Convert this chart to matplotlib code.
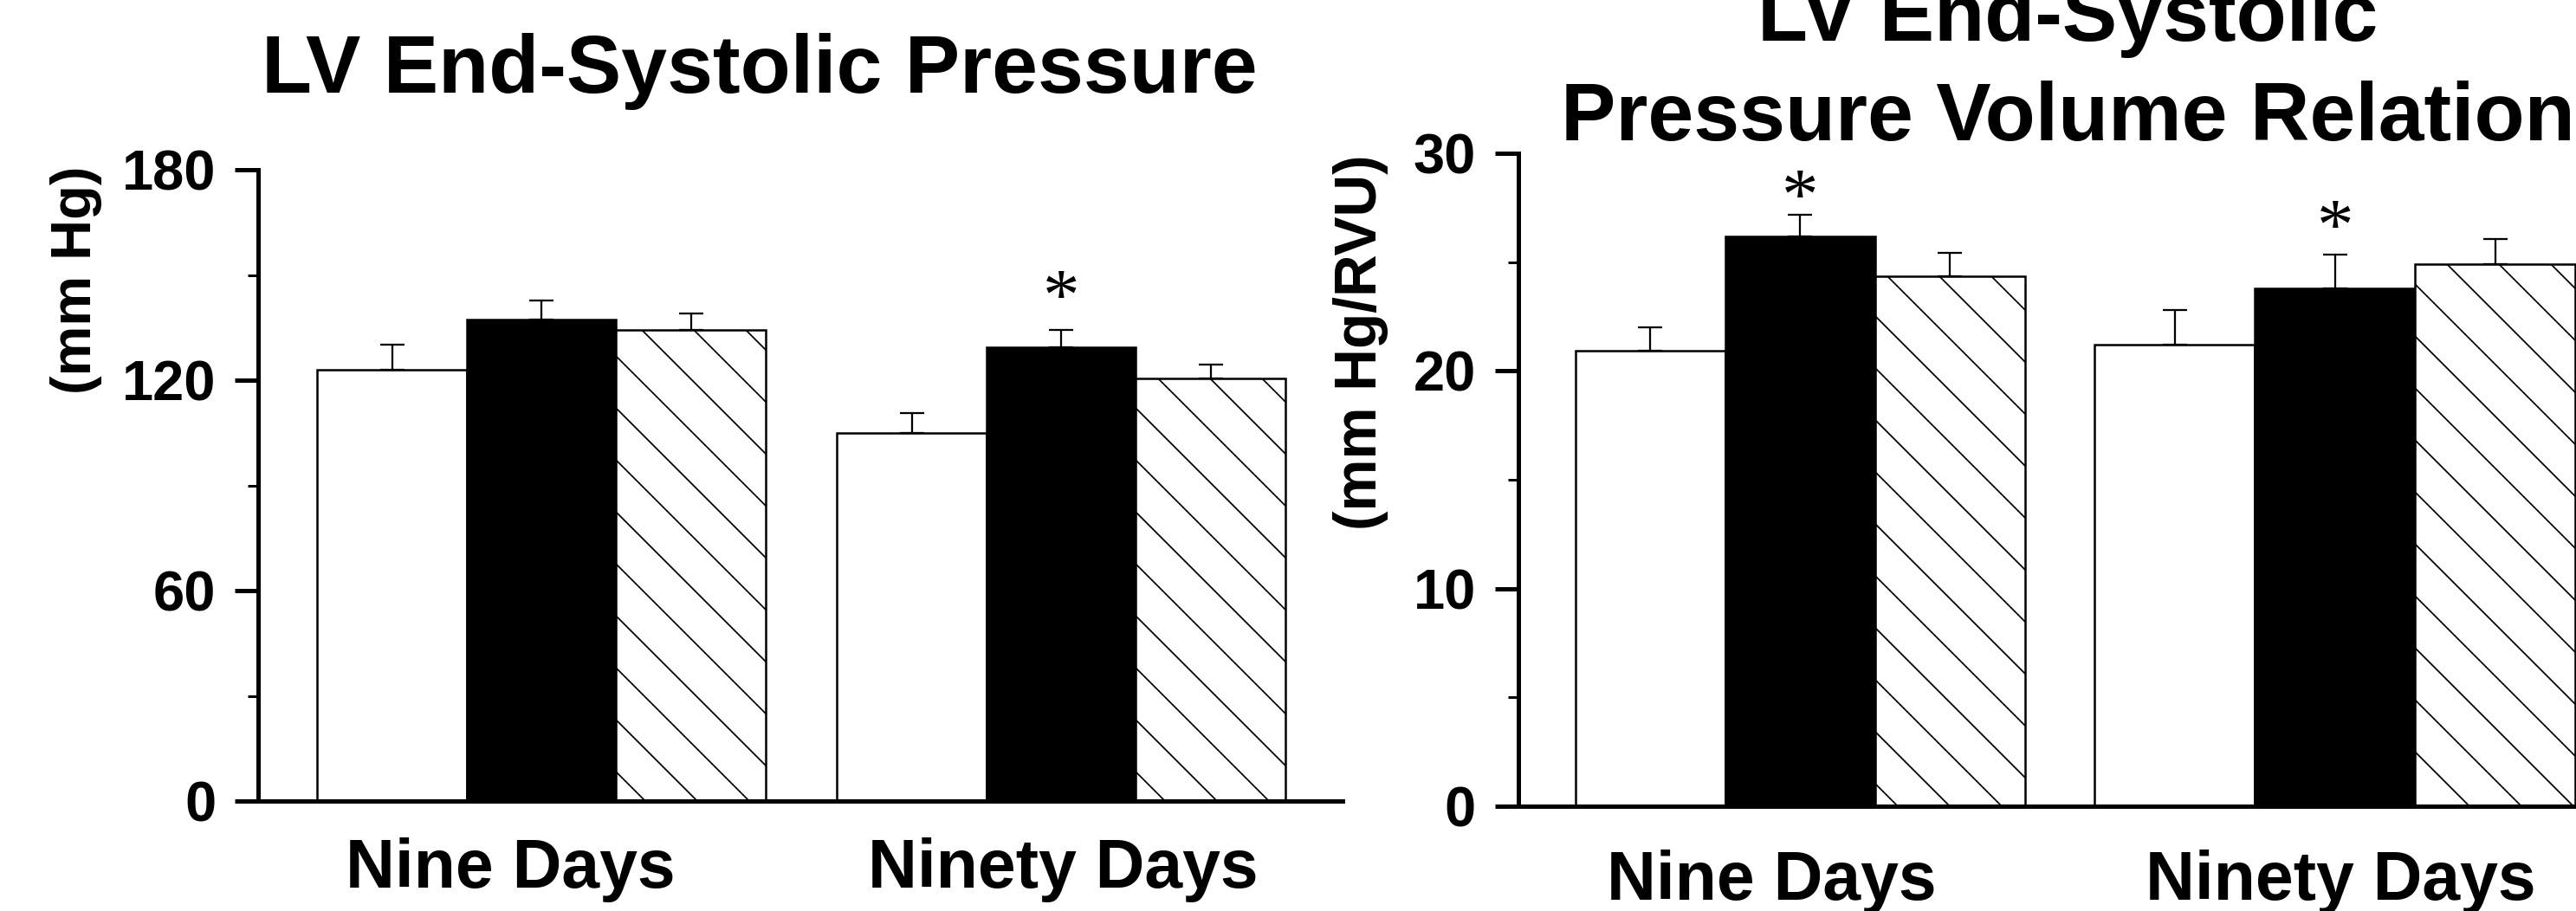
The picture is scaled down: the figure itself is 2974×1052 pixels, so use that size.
import numpy as np
import matplotlib
matplotlib.use('Agg')
import matplotlib.pyplot as plt
from matplotlib.ticker import MultipleLocator

plt.rcParams['font.family'] = ['Liberation Sans', 'DejaVu Sans']
plt.rcParams['font.weight'] = 'bold'
plt.rcParams['hatch.linewidth'] = 0.7
plt.rcParams['hatch.color'] = 'black'

groups = ['Nine Days', 'Ninety Days']

# LV end-systolic pressure (mm Hg)
esp_white = [123.0, 105.0]
esp_black = [137.3, 129.4]
esp_hatch = [134.4, 120.4]
esp_white_err = [7.1, 5.7]
esp_black_err = [5.3, 4.9]
esp_hatch_err = [4.7, 4.1]
esp_star = [None, 148.0]

# LV end-systolic pressure volume relation (mm Hg/RVU)
espvr_white = [20.93, 21.2]
espvr_black = [26.17, 23.78]
espvr_hatch = [24.35, 24.9]
espvr_white_err = [1.06, 1.61]
espvr_black_err = [1.02, 1.57]
espvr_hatch_err = [1.06, 1.16]
espvr_star = [28.7, 27.3]

DPI = 180
W, H = 2974, 1052


def draw_panel(ax, white, black, hatch, errs, stars, centers, widths, label_x,
               xmax, ymax, major, minor):
    centers = np.array(centers)
    widths = np.array(widths)
    styles = [('white', None), ('black', None), ('white', '\\')]
    for k, (vals, err) in enumerate(zip([white, black, hatch], errs)):
        x = centers + (k - 1) * widths
        fc, h = styles[k]
        ax.bar(x, vals, width=widths, color=fc, edgecolor='black',
               linewidth=1.0, hatch=h, zorder=2)
        ax.errorbar(x, vals, yerr=[np.zeros(len(vals)), err], fmt='none',
                    ecolor='black', elinewidth=0.9, capsize=5.6,
                    capthick=0.9, zorder=3)
    # significance marks (glyph sits high in its box, so nudge it down)
    for c, s in zip(centers, stars):
        if s is not None:
            ax.annotate('*', xy=(c, s), xytext=(0, -9),
                        textcoords='offset points', ha='center', va='center',
                        fontsize=34, family='Liberation Serif',
                        fontweight='normal', zorder=4)

    ax.set_xlim(0, xmax)
    ax.set_ylim(0, ymax)
    for side in ['top', 'right']:
        ax.spines[side].set_visible(False)
    for side in ['left', 'bottom']:
        ax.spines[side].set_linewidth(2.0)
    ax.yaxis.set_major_locator(MultipleLocator(major))
    ax.yaxis.set_minor_locator(MultipleLocator(minor))
    ax.tick_params(axis='y', which='major', length=10.8, width=2.0,
                   pad=8.8, labelsize=26)
    ax.tick_params(axis='y', which='minor', length=4.8, width=1.2)
    ax.set_xticks(label_x)
    ax.set_xticklabels(groups, fontsize=31.5)
    ax.tick_params(axis='x', length=0, pad=17)


fig = plt.figure(figsize=(W / DPI, H / DPI), dpi=DPI)

ax1 = fig.add_axes([298 / W, 1 - 925 / H, 1252 / W, 729 / H])
draw_panel(ax1, esp_white, esp_black, esp_hatch,
           [esp_white_err, esp_black_err, esp_hatch_err], esp_star,
           centers=[1.896, 5.374], widths=[1.0, 1.0], label_x=[1.69, 5.39],
           xmax=7.258, ymax=180, major=60, minor=30)

ax2 = fig.add_axes([1753 / W, 1 - 931 / H, 1247 / W, 754 / H])
draw_panel(ax2, espvr_white, espvr_black, espvr_hatch,
           [espvr_white_err, espvr_black_err, espvr_hatch_err], espvr_star,
           centers=[1.879, 5.449], widths=[1.0, 1.07], label_x=[1.69, 5.49],
           xmax=7.208, ymax=30, major=10, minor=5)
ax2.tick_params(axis='x', pad=20)

fig.text(877 / W, 1 - 107 / H, 'LV End-Systolic Pressure', ha='center',
         va='baseline', fontsize=38)
fig.text(2387 / W, 1 - 47 / H, 'LV End-Systolic', ha='center',
         va='baseline', fontsize=38)
fig.text(2387 / W, 1 - 162 / H, 'Pressure Volume Relation', ha='center',
         va='baseline', fontsize=38)

fig.text(88 / W, 1 - 323 / H, '(mm Hg)', rotation=90, ha='center',
         va='center', fontsize=26)
fig.text(1571 / W, 1 - 395 / H, '(mm Hg/RVU)', rotation=90, ha='center',
         va='center', fontsize=27)

fig.savefig('out.png', dpi=DPI)
